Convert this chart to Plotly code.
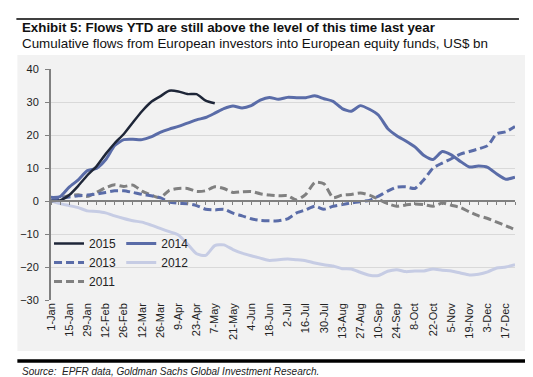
import plotly.graph_objects as go

# ---------------- data ----------------
days = list(range(0, 358, 7))  # weekly observation, day of year

tick_days = list(range(0, 351, 14))
tick_labels = ["1-Jan", "15-Jan", "29-Jan", "12-Feb", "26-Feb", "12-Mar", "26-Mar",
               "9-Apr", "23-Apr", "7-May", "21-May", "4-Jun", "18-Jun", "2-Jul",
               "16-Jul", "30-Jul", "13-Aug", "27-Aug", "10-Sep", "24-Sep", "8-Oct",
               "22-Oct", "5-Nov", "19-Nov", "3-Dec", "17-Dec"]

y2015 = [0, 0.2, 1.8, 4.6, 7.8, 10.5, 14.2, 17.5, 20.3, 23.8, 27.2, 30.0, 31.7,
         33.4, 33.2, 32.4, 32.4, 30.4, 29.6]

y2014 = [1.1, 1.3, 4.2, 6.4, 9.2, 9.9, 12.5, 16.8, 18.6, 18.7, 18.6, 19.4, 20.8,
         21.8, 22.6, 23.6, 24.6, 25.3, 26.6, 28.0, 28.8, 28.2, 28.9, 30.6, 31.4,
         30.8, 31.4, 31.3, 31.3, 31.9, 31.0, 30.2, 28.0, 27.2, 28.9, 27.8, 26.0,
         22.0, 19.8, 18.2, 16.4, 13.8, 12.6, 15.0, 14.0, 12.0, 10.3, 10.6, 10.2,
         8.2, 6.6, 7.2]

y2013 = [0, 0.7, 1.2, 1.6, 1.8, 2.1, 2.6, 3.1, 3.1, 2.6, 2.0, 1.6, 1.0, -0.3,
         -0.7, -0.8, -1.4, -2.5, -2.7, -2.5, -3.7, -4.5, -5.4, -5.9, -6.0, -6.0,
         -5.4, -3.6, -2.7, -1.6, -2.5, -1.6, -1.1, -0.6, -0.2, 0.2, 1.5, 3.0, 4.2,
         4.3, 3.8, 6.5, 10.0, 11.5, 12.8, 14.2, 15.0, 15.8, 16.8, 20.4, 21.0, 22.6]

y2012 = [0, -0.8, -1.4, -2.0, -3.0, -3.2, -3.6, -4.5, -5.3, -6.0, -6.4, -7.3,
         -8.3, -9.3, -10.3, -13.0, -16.0, -16.5, -13.5, -13.3, -14.7, -15.8, -16.6,
         -17.3, -18.0, -17.8, -17.6, -17.8, -18.1, -18.8, -19.3, -19.7, -20.5,
         -20.6, -21.6, -22.5, -22.6, -21.3, -20.8, -21.4, -21.2, -21.2, -20.6,
         -21.0, -21.2, -21.8, -22.4, -22.2, -21.5, -20.3, -20.0, -19.3]

y2011 = [0, 0.9, 1.6, 1.9, 1.4, 2.6, 4.0, 4.9, 4.4, 4.8, 3.0, 1.8, 1.0, 3.2, 3.8,
         3.8, 2.9, 3.1, 4.3, 3.8, 2.6, 2.8, 2.9, 2.2, 1.8, 1.6, 1.6, 0.3, 2.0, 5.6,
         5.2, 1.0, 1.8, 2.0, 2.4, 1.8, 0.5, -0.8, -1.6, -1.2, -0.9, -1.1, -1.6,
         -0.6, -1.3, -2.0, -3.3, -4.5, -5.3, -6.4, -7.5, -8.7]

title = "Exhibit 5: Flows YTD are still above the level of this time last year"
subtitle = "Cumulative flows from European investors into European equity funds, US$ bn"
source = "Source:  EPFR data, Goldman Sachs Global Investment Research."

# ---------------- layout helpers ----------------
W, H = 533, 377
L, R, T, B = 38, 26, 61, 85
PW = W - L - R
PH = H - T - B


def px(x):
    return (x - L) / PW


def py(y):
    return (H - B - y) / PH


FONT = "Liberation Sans, Arial, sans-serif"
C2015 = "#1e2638"
CBLUE = "#5a6ca8"
C2012 = "#c6cce4"
CGREY = "#808080"

fig = go.Figure()

series = [
    ("2011", y2011, CGREY, 3, "8px,4px", "legend", 3),
    ("2012", y2012, C2012, 3, "solid", "legend2", 2),
    ("2013", y2013, CBLUE, 3, "8px,4px", "legend", 2),
    ("2014", y2014, CBLUE, 3, "solid", "legend2", 1),
    ("2015", y2015, C2015, 2.5, "solid", "legend", 1),
]
for name, ys, col, w, dash, leg, rank in series:
    fig.add_trace(go.Scatter(
        x=days[:len(ys)], y=ys, name=name, mode="lines",
        line=dict(color=col, width=w, dash=dash, shape="spline", smoothing=0.6),
        legend=leg, legendrank=rank, legendgroup=name, hoverinfo="skip"))

# invisible trace to carry the zero-line axis
fig.add_trace(go.Scatter(x=[0], y=[0], xaxis="x2", mode="markers",
                         marker=dict(opacity=0), showlegend=False, hoverinfo="skip"))

fig.update_layout(
    width=W, height=H,
    margin=dict(l=L, r=R, t=T, b=B, pad=0),
    paper_bgcolor="white",
    plot_bgcolor="rgba(0,0,0,0)",
    font=dict(family=FONT, size=11, color="#222222"),
    xaxis=dict(range=[0, 357], tickvals=tick_days, ticktext=tick_labels,
               tickangle=-90, showgrid=False, zeroline=False, showline=False,
               ticks="", tickfont=dict(size=11, color="#222222")),
    xaxis2=dict(overlaying="x", anchor="free", position=30 / 70, range=[0, 357],
                tickvals=days, ticks="outside", ticklen=3, tickcolor=CGREY,
                tickwidth=1, showticklabels=False, showline=True, linecolor=CGREY,
                linewidth=2, showgrid=False, zeroline=False),
    yaxis=dict(range=[-30, 40], dtick=10, tick0=0, showgrid=True,
               gridcolor="#d9d9d9", gridwidth=1, zeroline=False, showline=True,
               linecolor=CGREY, linewidth=2, ticks="outside", ticklen=4,
               tickcolor=CGREY, ticklabelstandoff=4,
               tickfont=dict(size=11, color="#222222")),
    legend=dict(x=px(36), y=py(221), xanchor="left", yanchor="top",
                bgcolor="rgba(0,0,0,0)", font=dict(size=12, color="#222222"),
                tracegroupgap=0, itemwidth=30, orientation="v"),
    legend2=dict(x=px(109), y=py(221), xanchor="left", yanchor="top",
                 bgcolor="rgba(0,0,0,0)", font=dict(size=12, color="#222222"),
                 tracegroupgap=0, itemwidth=30, orientation="v"),
    showlegend=True,
)

shapes = [
    dict(type="rect", xref="paper", yref="paper", x0=px(4), x1=px(519),
         y0=py(343), y1=py(47), fillcolor="#f2f2f2", line=dict(width=0),
         layer="below"),
    dict(type="line", xref="paper", yref="paper", x0=px(3), x1=px(511),
         y0=py(11), y1=py(11), line=dict(color="black", width=1.5)),
    dict(type="line", xref="paper", yref="paper", x0=px(4), x1=px(519),
         y0=py(353), y1=py(353), line=dict(color="black", width=3.5)),
]
fig.update_layout(shapes=shapes)

fig.add_annotation(text="<b>" + title + "</b>", xref="paper", yref="paper",
                   x=px(7), y=py(20), xanchor="left", yanchor="middle",
                   showarrow=False, font=dict(family=FONT, size=13.3, color="#111111"))
fig.add_annotation(text=subtitle, xref="paper", yref="paper",
                   x=px(7), y=py(35), xanchor="left", yanchor="middle",
                   showarrow=False, font=dict(family=FONT, size=13.4, color="#111111"))
fig.add_annotation(text="<i>" + source + "</i>", xref="paper", yref="paper",
                   x=px(7), y=py(363), xanchor="left", yanchor="middle",
                   showarrow=False, font=dict(family=FONT, size=10, color="#222222"))

fig.write_html("out.html")
